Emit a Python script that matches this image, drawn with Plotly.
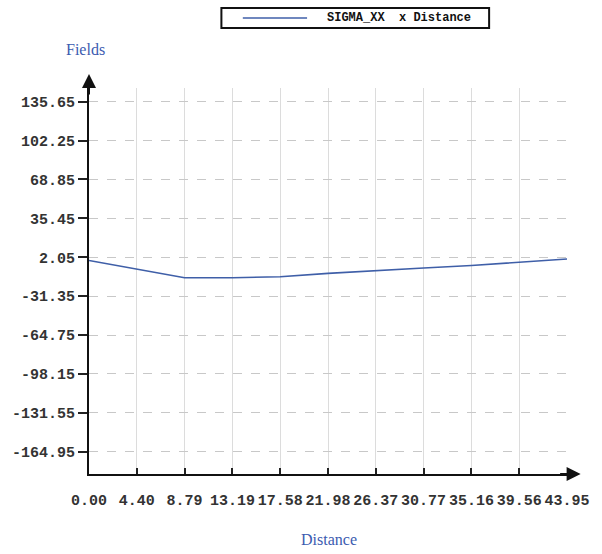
import plotly.graph_objects as go

# Distance samples along the path and the SIGMA_XX field values at each
distance = [0.00, 4.40, 8.79, 13.19, 17.58, 21.98, 26.37, 30.77, 35.16, 39.56, 43.95]
sigma_xx = [-0.8, -8.5, -15.6, -15.5, -14.7, -11.8, -9.3, -7.2, -5.0, -2.1, 0.5]

x_ticks = [0.00, 4.395, 8.79, 13.185, 17.58, 21.975, 26.37, 30.765, 35.16, 39.555, 43.95]
x_tick_text = ["0.00", "4.40", "8.79", "13.19", "17.58", "21.98",
               "26.37", "30.77", "35.16", "39.56", "43.95"]
y_ticks = [135.65, 102.25, 68.85, 35.45, 2.05, -31.35, -64.75, -98.15, -131.55, -164.95]
y_tick_text = [f"{v:.2f}" for v in y_ticks]

W, H = 602, 554
ML, MR, MT, MB = 86, 25, 88, 80
PW, PH = W - ML - MR, H - MT - MB


def px_x(p):
    return (p - ML) / PW


def px_y(p):
    return (H - MB - p) / PH


line_color = "#3f5fa8"
tick_font = dict(family="Liberation Mono", size=15, color="#333333", weight="bold")
title_font = dict(family="Liberation Serif", size=16, color="#3b5bb0")

fig = go.Figure()
fig.add_trace(go.Scatter(
    x=distance, y=sigma_xx, mode="lines",
    line=dict(color=line_color, width=1.6),
    name="SIGMA_XX  x Distance", showlegend=False,
))

fig.update_layout(
    width=W, height=H,
    margin=dict(l=ML, r=MR, t=MT, b=MB),
    paper_bgcolor="white", plot_bgcolor="white",
    xaxis=dict(
        range=[0, 43.95], tickmode="array", tickvals=x_ticks, ticktext=x_tick_text,
        tickangle=0, ticks="inside", ticklen=6, tickwidth=1.5, tickcolor="#222",
        tickfont=tick_font, ticklabelstandoff=11,
        showline=True, linecolor="#111", linewidth=2,
        showgrid=True, gridcolor="#dcdcdc", gridwidth=1,
        zeroline=False, fixedrange=True,
    ),
    yaxis=dict(
        range=[-184.1, 147.4], tickmode="array", tickvals=y_ticks, ticktext=y_tick_text,
        ticks="outside", ticklen=9, tickwidth=1.5, tickcolor="#222",
        tickfont=tick_font,
        showline=True, linecolor="#111", linewidth=2,
        showgrid=True, gridcolor="#c8c8c8", gridwidth=1, griddash="dash",
        zeroline=False, fixedrange=True,
    ),
)

annotations = [
    # axis titles
    dict(text="Fields", xref="paper", yref="paper", x=px_x(82), y=px_y(49),
         xanchor="center", yanchor="middle", showarrow=False, font=title_font),
    dict(text="Distance", xref="paper", yref="paper", x=px_x(333), y=px_y(539),
         xanchor="center", yanchor="middle", showarrow=False, font=title_font),
    # arrow heads at the axis ends
    dict(text="", xref="paper", yref="paper", x=px_x(86), y=px_y(74),
         ax=0, ay=22, showarrow=True, arrowhead=2, arrowsize=1.4,
         arrowwidth=2, arrowcolor="#111"),
    dict(text="", xref="paper", yref="paper", x=px_x(591), y=px_y(474),
         ax=-22, ay=0, showarrow=True, arrowhead=2, arrowsize=1.4,
         arrowwidth=2, arrowcolor="#111"),
    # legend entry text
    dict(text="SIGMA_XX\u00a0\u00a0x\u00a0Distance", xref="paper", yref="paper",
         x=px_x(404), y=px_y(18), xanchor="center", yanchor="middle", showarrow=False,
         font=dict(family="Liberation Mono", size=12, color="#111", weight="bold")),
]

shapes = [
    # legend frame
    dict(type="rect", xref="paper", yref="paper",
         x0=px_x(222), x1=px_x(497), y0=px_y(28), y1=px_y(8),
         line=dict(color="#111", width=2), fillcolor="white"),
    # legend line sample
    dict(type="line", xref="paper", yref="paper",
         x0=px_x(244), x1=px_x(310), y0=px_y(18), y1=px_y(18),
         line=dict(color=line_color, width=1.6)),
]

fig.update_layout(annotations=annotations, shapes=shapes)
fig.write_html("out.html")
